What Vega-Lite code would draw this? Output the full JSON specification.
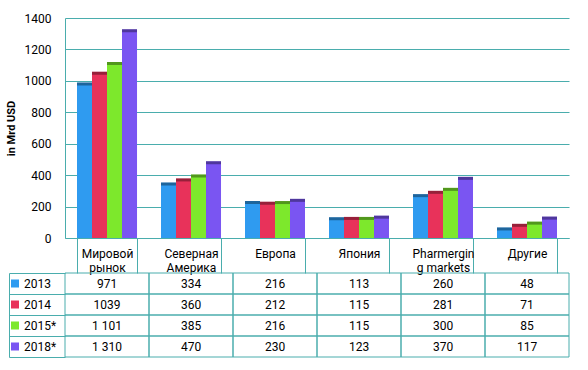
{
  "$schema": "https://vega.github.io/schema/vega-lite/v6.json",
  "padding": {"left": 5, "top": 12, "right": 0, "bottom": 0},
  "background": "white",
  "data": {"values": [
    {"cat": "Мировой рынок", "year": "2013", "value": 971, "label": "971"},
    {"cat": "Мировой рынок", "year": "2014", "value": 1039, "label": "1039"},
    {"cat": "Мировой рынок", "year": "2015*", "value": 1101, "label": "1 101"},
    {"cat": "Мировой рынок", "year": "2018*", "value": 1310, "label": "1 310"},
    {"cat": "Северная Америка", "year": "2013", "value": 334, "label": "334"},
    {"cat": "Северная Америка", "year": "2014", "value": 360, "label": "360"},
    {"cat": "Северная Америка", "year": "2015*", "value": 385, "label": "385"},
    {"cat": "Северная Америка", "year": "2018*", "value": 470, "label": "470"},
    {"cat": "Европа", "year": "2013", "value": 216, "label": "216"},
    {"cat": "Европа", "year": "2014", "value": 212, "label": "212"},
    {"cat": "Европа", "year": "2015*", "value": 216, "label": "216"},
    {"cat": "Европа", "year": "2018*", "value": 230, "label": "230"},
    {"cat": "Япония", "year": "2013", "value": 113, "label": "113"},
    {"cat": "Япония", "year": "2014", "value": 115, "label": "115"},
    {"cat": "Япония", "year": "2015*", "value": 115, "label": "115"},
    {"cat": "Япония", "year": "2018*", "value": 123, "label": "123"},
    {"cat": "Pharmerging markets", "year": "2013", "value": 260, "label": "260"},
    {"cat": "Pharmerging markets", "year": "2014", "value": 281, "label": "281"},
    {"cat": "Pharmerging markets", "year": "2015*", "value": 300, "label": "300"},
    {"cat": "Pharmerging markets", "year": "2018*", "value": 370, "label": "370"},
    {"cat": "Другие", "year": "2013", "value": 48, "label": "48"},
    {"cat": "Другие", "year": "2014", "value": 71, "label": "71"},
    {"cat": "Другие", "year": "2015*", "value": 85, "label": "85"},
    {"cat": "Другие", "year": "2018*", "value": 117, "label": "117"}
  ]},
  "config": {
    "font": "Roboto",
    "view": {"stroke": null},
    "axis": {"labelFont": "Roboto", "titleFont": "Roboto", "labelColor": "#000", "titleColor": "#000"},
    "legend": {"labelFont": "Roboto"}
  },
  "bounds": "flush",
  "spacing": 35,
  "resolve": {"scale": {"x": "independent", "y": "independent", "color": "shared"}},
  "vconcat": [
    {
      "width": 504,
      "height": 220,
      "encoding": {
        "x": {
          "field": "cat", "type": "nominal",
          "sort": ["Мировой рынок", "Северная Америка", "Европа", "Япония", "Pharmerging markets", "Другие"],
          "scale": {"paddingInner": 0.2857, "paddingOuter": 0.143},
          "axis": {
            "title": null, "labelAngle": 0, "tickBand": "extent", "tickSize": 35,
            "tickColor": "#4aadad", "domainColor": "#4aadad", "labelPadding": -25,
            "labelFontSize": 12, "labelLineHeight": 14, "labelBaseline": "top",
            "labelExpr": "datum.label == 'Pharmerging markets' ? ['Pharmergin', 'g markets'] : split(datum.label, ' ')"
          }
        },
        "xOffset": {"field": "year", "type": "nominal", "scale": {"paddingInner": 0}},
        "y": {
          "field": "value", "type": "quantitative",
          "scale": {"domain": [0, 1400], "nice": false},
          "axis": {
            "title": "in Mrd USD", "values": [0, 200, 400, 600, 800, 1000, 1200, 1400], "format": "d",
            "grid": true, "gridColor": "#4aadad", "ticks": false, "labelPadding": 14,
            "domainColor": "#4aadad", "titleFontWeight": "bold", "titleFontSize": 11,
            "titlePadding": 8, "labelFontSize": 12
          }
        },
        "color": {
          "field": "year", "type": "nominal",
          "scale": {"domain": ["2013", "2014", "2015*", "2018*"], "range": ["#2f9bf0", "#e8325a", "#7de82c", "#7a55f2"]},
          "legend": {
            "title": null, "orient": "none", "legendX": -56, "legendY": 255,
            "symbolType": "square", "symbolSize": 64, "clipHeight": 21, "rowPadding": 0,
            "labelFontSize": 12, "labelOffset": 3, "padding": 0, "symbolStrokeWidth": 0,
            "symbolOpacity": 1, "direction": "vertical"
          }
        }
      },
      "layer": [
        {"mark": {"type": "bar", "xOffset": 4, "yOffset": -3}},
        {"mark": {"type": "bar", "xOffset": 4, "yOffset": -3, "fill": "#000", "opacity": 0.35}, "encoding": {"color": {"value": "#000"}}},
        {"mark": {"type": "bar"}}
      ]
    },
    {
      "width": 504,
      "height": 84,
      "encoding": {
        "x": {
          "field": "cat", "type": "nominal",
          "sort": ["Мировой рынок", "Северная Америка", "Европа", "Япония", "Pharmerging markets", "Другие"],
          "scale": {"paddingInner": 0, "paddingOuter": 0}, "axis": null
        },
        "y": {
          "field": "year", "type": "nominal",
          "axis": {
            "title": null, "labels": false, "offset": 56, "tickSize": -56, "tickBand": "extent",
            "tickColor": "#4aadad", "domainColor": "#4aadad"
          }
        }
      },
      "layer": [
        {"mark": {"type": "rect", "fill": "transparent", "stroke": "#4aadad", "strokeWidth": 1}},
        {"mark": {"type": "text", "fontSize": 12, "color": "#000"}, "encoding": {"text": {"field": "label"}}}
      ]
    }
  ]
}
